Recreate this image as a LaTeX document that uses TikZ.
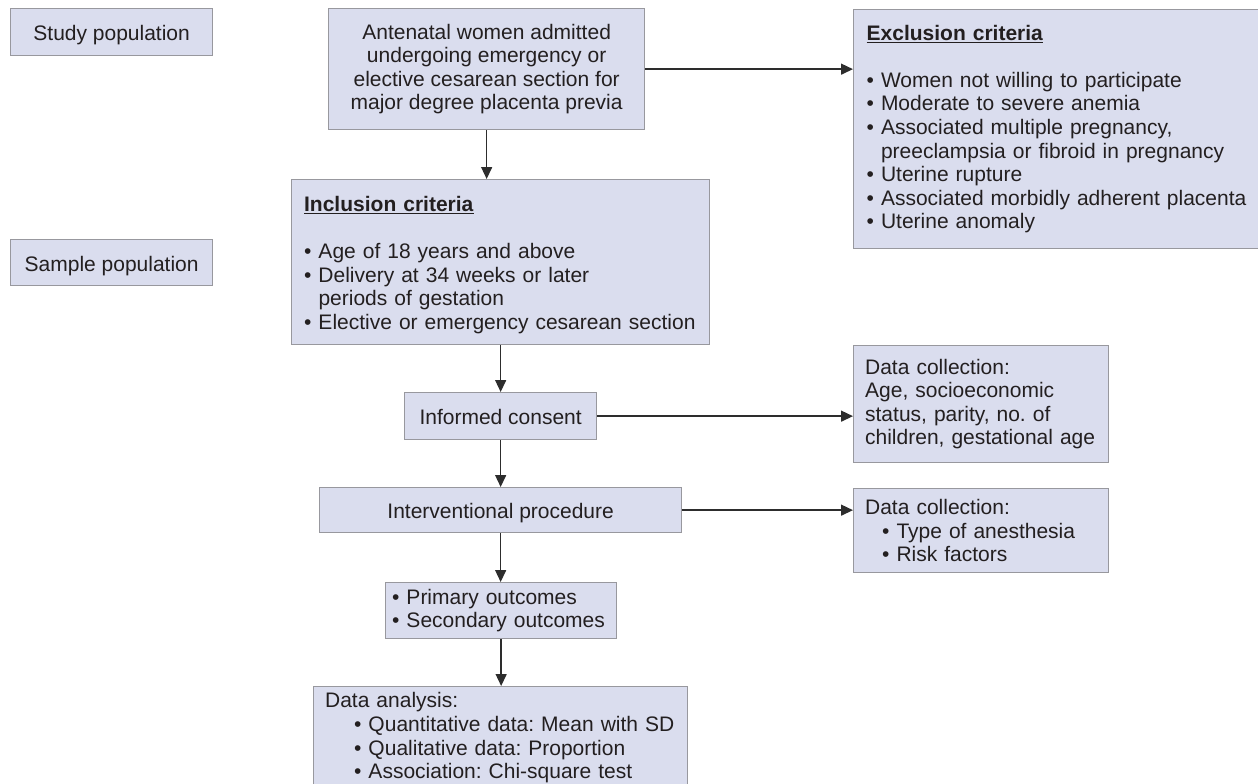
\documentclass[tikz,border=0pt]{standalone}
\usepackage{fontspec}
\setmainfont{Liberation Sans}
\usepackage{xcolor}
\usepackage{tikz}
\usetikzlibrary{arrows.meta,positioning,calc}

\definecolor{boxfill}{RGB}{218,221,238}
\definecolor{boxline}{RGB}{152,152,158}
\definecolor{inkdark}{RGB}{35,31,32}
\definecolor{arrowink}{RGB}{45,45,45}

\newcommand{\bul}{\textbullet\ }
\newcommand{\bulgap}{\hphantom{\textbullet\ }}
\frenchspacing

\begin{document}
\begin{tikzpicture}[x=1pt,y=-1pt,
		box/.style={draw=boxline,fill=boxfill,line width=1.3pt,text=inkdark,
			font=\fontsize{21}{23.6}\selectfont,anchor=north west,align=center},
		onebox/.style={box,text height=17,text depth=0},
		listbox/.style={box,align=left},
		arr/.style={draw=arrowink,line width=1.4pt,-{Triangle[length=12pt,width=11pt]}}]
		\useasboundingbox (0,0) rectangle (1258,784);
		\clip (0,0) rectangle (1258,784);

		% Labels on the left
		\node[onebox,minimum width=202,minimum height=47] (study) at (10,8) {Study population};
		\node[onebox,minimum width=202,minimum height=46] (sample) at (10,239) {Sample population};

		% Main column
		\node[box,minimum width=316,minimum height=121] (antenatal) at (328,8)
			{Antenatal women admitted\\ undergoing emergency or\\ elective cesarean section for\\ major degree placenta previa};
		\node[listbox,inner xsep=12.5,text width=393,minimum height=165] (inclusion) at (291,179)
			{\rule{0pt}{21pt}\underline{\textbf{Inclusion criteria}}\\[23.6pt]
			\bul Age of 18 years and above\\
			\bul Delivery at 34 weeks or later\\
			\bulgap periods of gestation\\
			\bul Elective or emergency cesarean section};
		\node[onebox,minimum width=192,minimum height=47] (consent) at (404,392) {Informed consent};
		\node[onebox,minimum width=362,minimum height=45] (procedure) at (319,487) {Interventional procedure};
		\node[listbox,inner xsep=6.5,text width=218,minimum height=56] (outcomes) at (385,582)
			{\bul Primary outcomes\\ \bul Secondary outcomes};
		\node[listbox,inner xsep=11.5,inner ysep=6,text width=351] (analysis) at (313,686)
			{Data analysis:\\
			\hspace*{29pt}\bul Quantitative data: Mean with SD\\
			\hspace*{29pt}\bul Qualitative data: Proportion\\
			\hspace*{29pt}\bul Association: Chi-square test\\[10pt]};

		% Right column
		\node[listbox,inner xsep=13,text width=405,minimum height=239] (exclusion) at (853,9)
			{\underline{\textbf{Exclusion criteria}}\\[23.6pt]
			\bul Women not willing to participate\\
			\bul Moderate to severe anemia\\
			\bul Associated multiple pregnancy,\\
			\bulgap preeclampsia or fibroid in pregnancy\\
			\bul Uterine rupture\\
			\bul Associated morbidly adherent placenta\\
			\bul Uterine anomaly};
		\node[listbox,inner xsep=11.5,text width=232,minimum height=117] (collectA) at (853,345)
			{Data collection:\\ Age, socioeconomic\\ status, parity, no. of\\ children, gestational age};
		\node[listbox,inner xsep=11.5,text width=232,minimum height=84] (collectB) at (853,488)
			{Data collection:\\
			\hspace*{17pt}\bul Type of anesthesia\\
			\hspace*{17pt}\bul Risk factors};

		% Arrows
		\draw[arr] (antenatal.south) -- (antenatal.south |- inclusion.north);
		\draw[arr] (inclusion.south) -- (inclusion.south |- consent.north);
		\draw[arr] (consent.south) -- (consent.south |- procedure.north);
		\draw[arr] (procedure.south) -- (procedure.south |- outcomes.north);
		\draw[arr] (outcomes.south) -- (outcomes.south |- analysis.north);
		\draw[arr] (antenatal.east) -- (antenatal.east -| exclusion.west);
		\draw[arr] (consent.east) -- (consent.east -| collectA.west);
		\draw[arr] (procedure.east) -- (procedure.east -| collectB.west);
	\end{tikzpicture}
\end{document}
